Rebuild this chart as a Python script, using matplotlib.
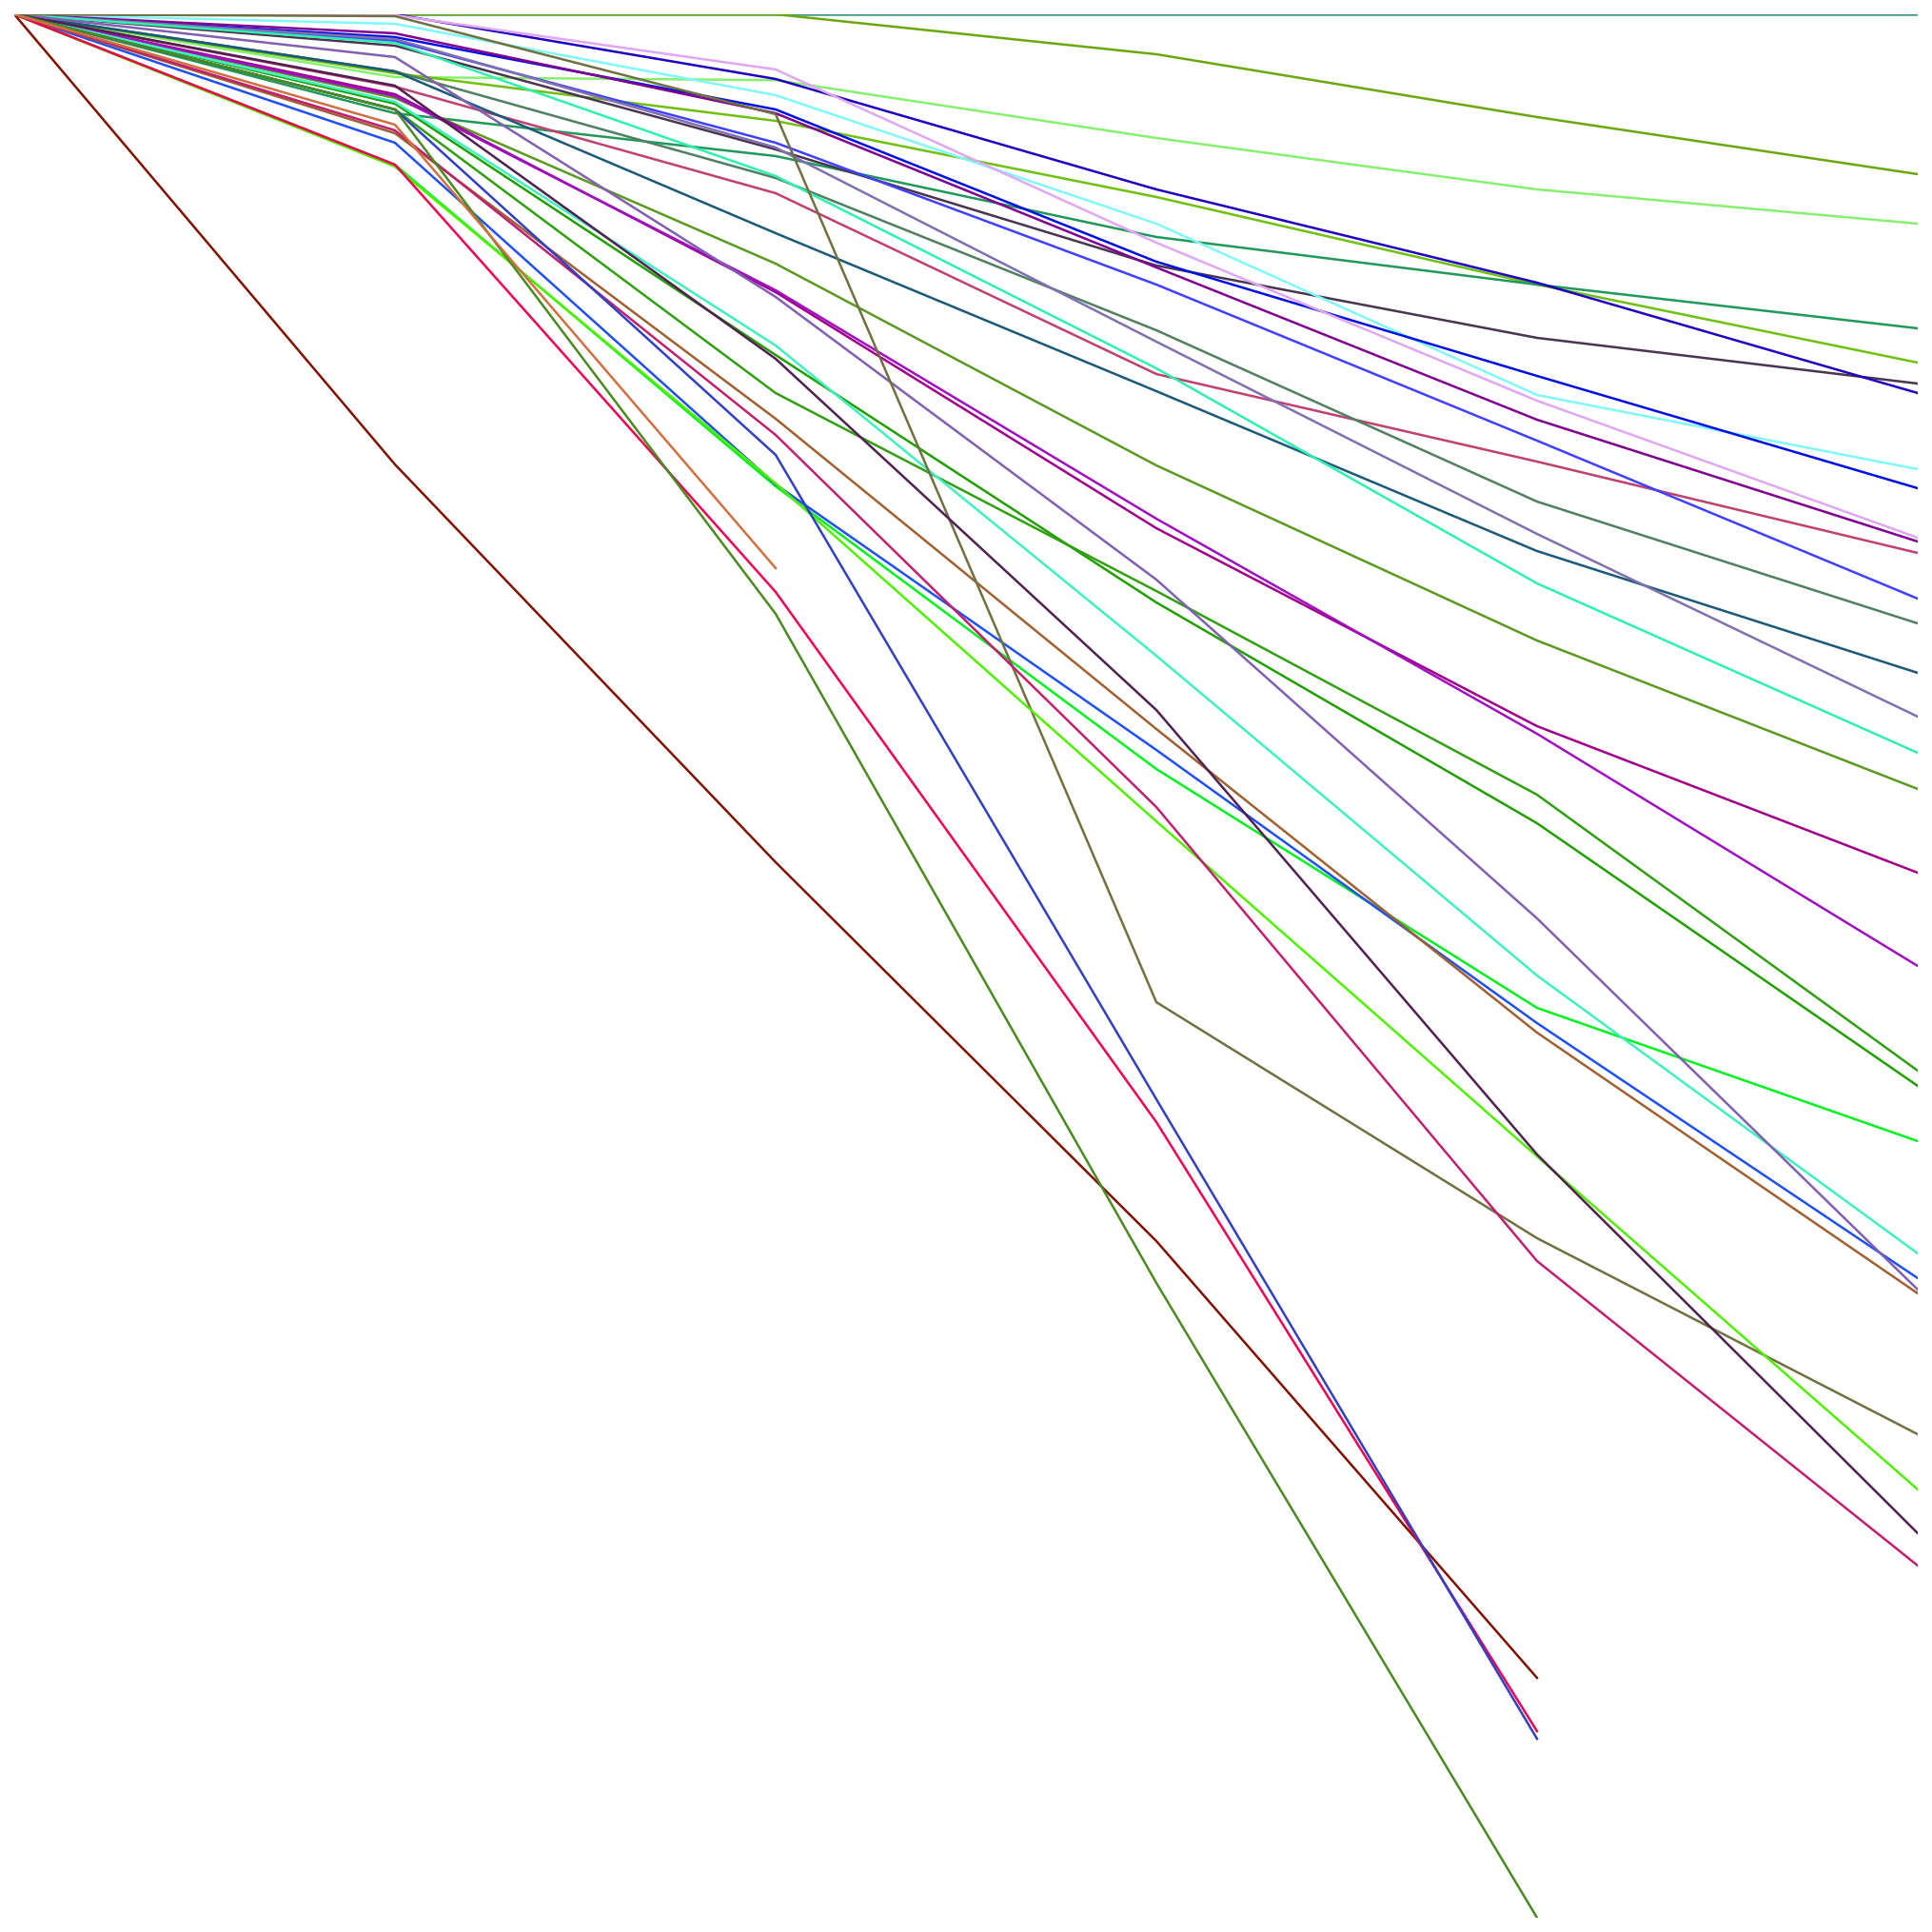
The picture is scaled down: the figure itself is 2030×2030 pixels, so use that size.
import matplotlib
matplotlib.use("Agg")
import matplotlib.pyplot as plt

# steps along the x axis
steps = [0, 1, 2, 3, 4, 5]

# each series: drop per step (0 = top)
teal = [0, 0, 0, 0, 0, 0]
olive = [0, 0, 0, 0.021, 0.054, 0.084]
light_green = [0, 0.033, 0.0346, 0.065, 0.092, 0.110]
yellow_green = [0, 0.031, 0.056, 0.096, 0.142, 0.183]
teal_green = [0, 0.052, 0.0745, 0.117, 0.142, 0.165]
gray_purple = [0, 0.0165, 0.071, 0.132, 0.170, 0.194]
navy = [0, 0, 0.034, 0.092, 0.141, 0.199]
light_cyan = [0, 0.005, 0.0425, 0.110, 0.200, 0.239]
blue1 = [0, 0.012, 0.050, 0.130, 0.190, 0.249]
lavender = [0, 0.0005, 0.029, 0.120, 0.203, 0.275]
purple = [0, 0.010, 0.052, 0.133, 0.213, 0.277]
rose = [0, 0.038, 0.094, 0.189, 0.235, 0.283]
blue2 = [0, 0.014, 0.0675, 0.142, 0.224, 0.307]
gray_green = [0, 0.030, 0.086, 0.166, 0.256, 0.320]
dark_teal = [0, 0.030, 0.115, 0.198, 0.282, 0.346]
slate = [0, 0.013, 0.070, 0.172, 0.273, 0.369]
aqua = [0, 0.015, 0.085, 0.186, 0.299, 0.388]
olive2 = [0, 0.044, 0.131, 0.237, 0.329, 0.407]
magenta_purple = [0, 0.042, 0.146, 0.270, 0.374, 0.451]
violet = [0, 0.043, 0.145, 0.265, 0.378, 0.500]
green_a = [0, 0.047, 0.179, 0.309, 0.425, 0.563]
green_b = [0, 0.050, 0.199, 0.303, 0.410, 0.555]
bright_green = [0, 0.079, 0.248, 0.3965, 0.522, 0.592]
aqua2 = [0, 0.046, 0.174, 0.337, 0.505, 0.651]
blue3 = [0, 0.0675, 0.247, 0.3865, 0.530, 0.664]
slate2 = [0, 0.0225, 0.1485, 0.297, 0.475, 0.670]
brown = [0, 0.0625, 0.2125, 0.3755, 0.535, 0.672]
olive_drab = [0, 0.001, 0.0525, 0.519, 0.643, 0.746]
lime = [0, 0.080, 0.2465, 0.424, 0.600, 0.775]
dark_purple = [0, 0.0375, 0.181, 0.3655, 0.599, 0.798]
magenta_pink = [0, 0.061, 0.221, 0.4165, 0.655, 0.815]
dark_red = [0, 0.2365, 0.4455, 0.6445, 0.874]
red_pink = [0, 0.079, 0.3035, 0.582, 0.902]
blue_steep = [0, 0.050, 0.2315, 0.570, 0.906]
olive3 = [0, 0.050, 0.315, 0.6665, 1.0]
orange = [0, 0.058, 0.291]

series = [
    (teal, "#3a9a88"), (olive, "#6aa810"), (light_green, "#88f070"),
    (yellow_green, "#70c010"), (teal_green, "#20995a"), (gray_purple, "#4a3550"),
    (navy, "#2000c0"), (light_cyan, "#80f8f8"), (blue1, "#0010e0"),
    (lavender, "#e0a8f0"), (purple, "#800090"), (rose, "#c04070"),
    (blue2, "#4040ff"), (gray_green, "#508060"), (dark_teal, "#1a5a78"),
    (slate, "#8070b0"), (aqua, "#30f0b0"), (olive2, "#5a9a20"),
    (magenta_purple, "#a0008a"), (violet, "#a010c0"), (green_a, "#20a000"),
    (green_b, "#30a010"), (bright_green, "#00f020"), (aqua2, "#40f0c0"),
    (blue3, "#2050f0"), (slate2, "#8060b0"), (brown, "#a06030"),
    (olive_drab, "#707040"), (lime, "#50f000"), (dark_purple, "#502050"),
    (magenta_pink, "#c02070"), (dark_red, "#801000"), (red_pink, "#f00050"),
    (blue_steep, "#3040c0"), (olive3, "#4a8a20"), (orange, "#d07040"),
]

fig = plt.figure(figsize=(20.3, 20.3), dpi=100)
ax = fig.add_axes([15 / 2030, 15 / 2030, 2000 / 2030, 2000 / 2030])

for vals, col in series:
    ax.plot(steps[:len(vals)], vals, color=col, lw=1.8)

ax.set_xlim(0, 5)
ax.set_ylim(1, 0)
ax.axis("off")

fig.savefig("out.png", dpi=100, facecolor="white")
